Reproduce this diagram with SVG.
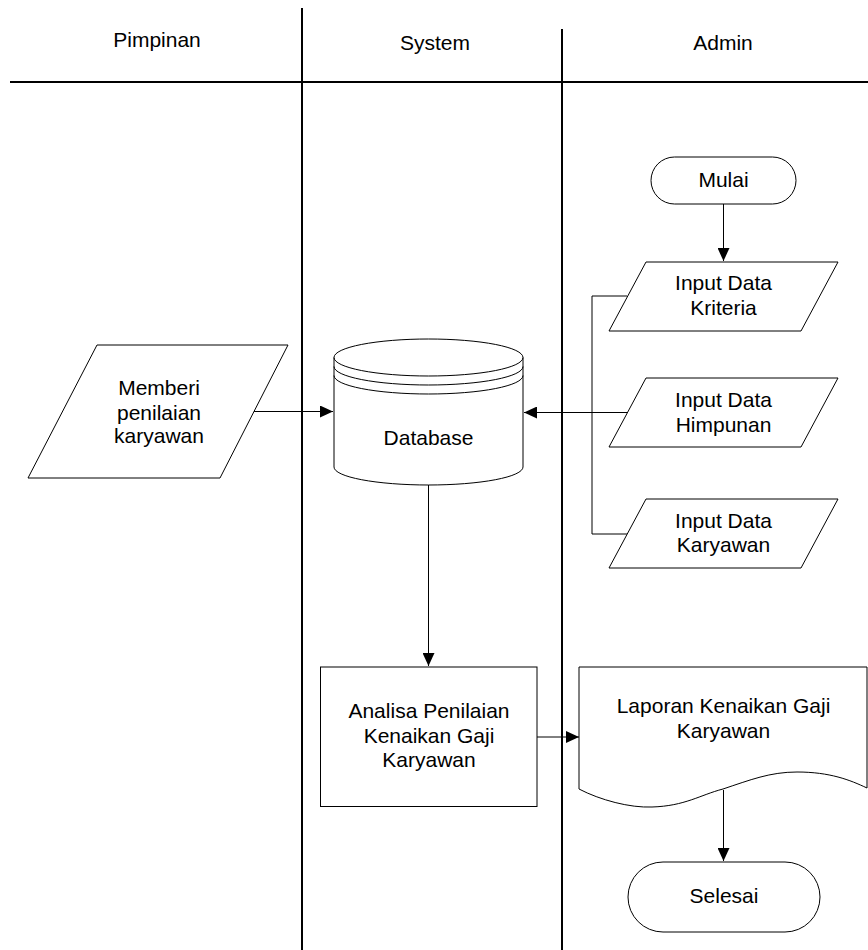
<svg xmlns="http://www.w3.org/2000/svg" width="868" height="950" viewBox="0 0 868 950">
<style>
.lane{stroke:#000;stroke-width:2;fill:none}
.shape{fill:#fff;stroke:#000;stroke-width:1}
.line{fill:none;stroke:#000;stroke-width:1}
.conn{stroke:#000;stroke-width:1;fill:none}
text{font-family:"Liberation Sans",Arial,sans-serif;font-size:21px;text-anchor:middle;fill:#000}
</style>
<defs>
<marker id="arr" viewBox="0 0 13 12" refX="13" refY="6" markerWidth="13" markerHeight="12" markerUnits="userSpaceOnUse" orient="auto">
<path d="M0,0 L13,6 L0,12 Z" fill="#000"/>
</marker>
</defs>
<rect width="868" height="950" fill="#fff"/>
<g id="lanes">
<line class="lane" x1="302" y1="8" x2="302" y2="950"/>
<line class="lane" x1="562" y1="29" x2="562" y2="950"/>
<line class="lane" x1="10" y1="82" x2="868" y2="82"/>
<text x="157" y="47">Pimpinan</text>
<text x="435" y="50">System</text>
<text x="723" y="50">Admin</text>
</g>
<g id="connectors">
<path class="conn" d="M723.5,204 V261" marker-end="url(#arr)"/>
<path class="conn" d="M254,411.5 H333" marker-end="url(#arr)"/>
<path class="conn" d="M627,296 H592 V534 H627"/>
<path class="conn" d="M627,412.5 H524" marker-end="url(#arr)"/>
<path class="conn" d="M428.5,485 V666" marker-end="url(#arr)"/>
<path class="conn" d="M537,737 H579" marker-end="url(#arr)"/>
<path class="conn" d="M723.5,790 V861" marker-end="url(#arr)"/>
</g>
<g id="mulai">
<rect class="shape" x="651" y="157" width="145" height="47" rx="23.5"/>
<text x="723.5" y="187">Mulai</text>
</g>
<g id="kriteria">
<polygon class="shape" points="646,262 838,262 801,331 609,331"/>
<text x="723.5" y="290">Input Data</text>
<text x="723.5" y="315">Kriteria</text>
</g>
<g id="himpunan">
<polygon class="shape" points="646,378 838,378 801,447 609,447"/>
<text x="723.5" y="407">Input Data</text>
<text x="723.5" y="432">Himpunan</text>
</g>
<g id="karyawan">
<polygon class="shape" points="646,499 838,499 801,568 609,568"/>
<text x="723.5" y="528">Input Data</text>
<text x="723.5" y="552">Karyawan</text>
</g>
<g id="memberi">
<polygon class="shape" points="97,345 288,345 220,478 28,478"/>
<text x="159" y="395">Memberi</text>
<text x="159" y="420">penilaian</text>
<text x="159" y="443">karyawan</text>
</g>
<g id="database">
<path class="shape" d="M334,357.5 A94.5,18.5 0 0 1 523,357.5 V467 A94.5,18 0 0 1 334,467 Z"/>
<path class="line" d="M334,357.5 A94.5,18.5 0 0 0 523,357.5"/>
<path class="line" d="M334,366.5 A94.5,18.5 0 0 0 523,366.5"/>
<path class="line" d="M334,375.5 A94.5,18.5 0 0 0 523,375.5"/>
<text x="428.5" y="445">Database</text>
</g>
<g id="analisa">
<rect class="shape" x="320.5" y="667" width="216.5" height="139.5"/>
<text x="429" y="718">Analisa Penilaian</text>
<text x="429" y="743">Kenaikan Gaji</text>
<text x="429" y="767">Karyawan</text>
</g>
<g id="laporan">
<path class="shape" d="M579,667 H867 V788 C850,780 830,772 797,772 C770,772 750,780 723,789 C700,795 685,806 652,807 C630,808 600,800 579,789 Z"/>
<text x="723.5" y="713">Laporan Kenaikan Gaji</text>
<text x="723.5" y="738">Karyawan</text>
</g>
<g id="selesai">
<rect class="shape" x="628" y="862" width="192" height="70" rx="35"/>
<text x="724" y="903">Selesai</text>
</g>
</svg>
